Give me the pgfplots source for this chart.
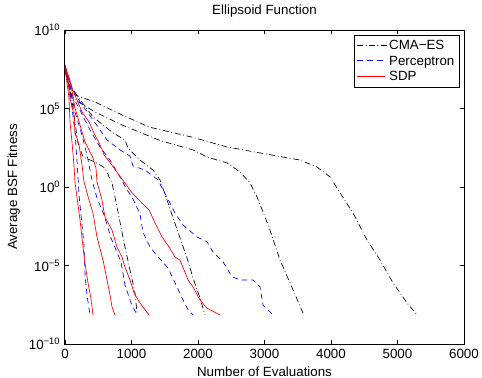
\documentclass[border=0pt]{standalone}
\usepackage{fontspec}
\setmainfont{Liberation Sans}
\usepackage{pgfplots}
\pgfplotsset{compat=1.18}
\newcommand{\seg}[1]{\rule[-0.3pt]{#1}{0.6pt}}
\begin{document}
\fontsize{10}{12}\selectfont
\begin{tikzpicture}
\useasboundingbox (-48.75pt,-25.5pt) rectangle (312.75pt,258pt);
\begin{axis}[
  at={(0,0)}, anchor=south west,
  scale only axis, width=299.25pt, height=235.5pt,
  xmin=0, xmax=6000, ymin=1e-10, ymax=1e10, ymode=log, log basis y=10,
  xtick={0,1000,2000,3000,4000,5000,6000},
  xticklabels={0,1000,2000,3000,4000,5000,6000},
  ytick={1e-10,1e-5,1,1e5,1e10},
  yticklabels={10\textsuperscript{−10},10\textsuperscript{−5},10\textsuperscript{0},10\textsuperscript{5},10\textsuperscript{10}},
  yminorticks=false, xminorticks=false,
  tick align=inside, major tick length=3pt,
  tick style={line width=0.5pt, black},
  axis line style={line width=0.75pt},
  tick label style={font=\fontsize{10}{12}\selectfont},
  title={Ellipsoid Function},
  xlabel={Number of Evaluations},
  ylabel={Average BSF Fitness},
  label style={font=\fontsize{10}{12}\selectfont},
  title style={font=\fontsize{10}{12}\selectfont},
  legend style={at={(rel axis cs:1,1)}, anchor=north east, xshift=-3pt, yshift=-3.75pt,
    font=\fontsize{10}{12}\selectfont, inner sep=2pt, row sep=-1pt},
  legend cell align=left,
  every axis plot/.append style={line width=0.5pt, no markers},
]
\addlegendimage{legend image code/.code={\node[inner sep=0pt, anchor=west, text=black] at (0pt,0pt) {\seg{4.5pt}\hspace{1.8pt}\seg{0.6pt}\hspace{1.8pt}\seg{4.5pt}\hspace{1.8pt}\seg{0.6pt}\hspace{1.8pt}\seg{4.5pt}};}}
\addlegendentry{CMA−ES}
\addlegendimage{legend image code/.code={\node[inner sep=0pt, anchor=west, text=blue] at (0pt,0pt) {\seg{4.5pt}\hspace{3pt}\seg{4.5pt}\hspace{3pt}\seg{4.5pt}};}}
\addlegendentry{Perceptron}
\addlegendimage{legend image code/.code={\node[inner sep=0pt, anchor=west, text=red] at (0pt,0pt) {\seg{20.5pt}};}}
\addlegendentry{SDP}
% CMA-ES
\addplot[black, dash pattern=on 4.5pt off 2pt on 0.6pt off 2pt, forget plot] coordinates {(0,4.0e7) (105,3.2e5) (195,6.3e2) (271,81) (451,39) (602,16) (707,1.8) (752,0.23) (827,5.9e-3) (902,1.5e-4) (978,5.1e-6) (1053,1.8e-7) (1083,9.3e-9)};
\addplot[black, dash pattern=on 4.5pt off 2pt on 0.6pt off 2pt, forget plot] coordinates {(0,3.2e7) (120,1.5e6) (421,2.9e4) (722,2.8e3) (902,9.8e2) (948,3.0e2) (1128,52) (1324,12) (1429,2.8) (1534,0.15) (1624,0.011) (1730,5.6e-4) (1835,3.0e-5) (1925,1.6e-6) (2030,8.5e-8) (2106,7.1e-9)};
\addplot[black, dash pattern=on 4.5pt off 2pt on 0.6pt off 2pt, forget plot] coordinates {(0,3.2e7) (105,4.7e5) (451,6.0e4) (857,8.9e3) (1429,9.1e2) (1925,2.3e2) (2136,81) (2436,34) (2632,9.1) (2782,1.8) (2888,0.23) (2978,0.025) (3083,1.8e-3) (3234,2.2e-5) (3429,2.8e-7) (3580,9.3e-9)};
\addplot[black, dash pattern=on 4.5pt off 2pt on 0.6pt off 2pt, forget plot] coordinates {(0,2.5e7) (60,3.2e6) (150,7.2e5) (450,2.6e5) (857,3.9e4) (1263,6.6e3) (1910,1.5e3) (2436,355) (2933,148) (3534,52) (3790,18.6) (3986,4.4) (4136,0.42) (4332,0.022) (4542,4.2e-4) (4738,2.2e-5) (4933,7.8e-7) (5144,4.1e-8) (5294,7.1e-9)};
% Perceptron
\addplot[blue, dash pattern=on 4pt off 3pt, forget plot] coordinates {(0,5.0e7) (75,1.1e6) (105,1.1e5) (150,3.2e3) (180,52) (211,0.31) (256,3.8e-3) (286,2.0e-4) (301,2.5e-6) (331,1.3e-7) (376,7.1e-9)};
\addplot[blue, dash pattern=on 4pt off 3pt, forget plot] coordinates {(0,5.0e7) (75,2.0e6) (150,6.0e4) (256,2.0e3) (331,1.1e2) (406,2.8) (481,0.2) (587,0.017) (692,5.6e-4) (842,1.7e-5) (902,5.8e-7) (993,4.1e-8) (1083,7.1e-9)};
\addplot[blue, dash pattern=on 4pt off 3pt, forget plot] coordinates {(0,5.0e7) (120,5.4e5) (226,7.9e4) (376,4.3e3) (527,3.5e2) (677,52) (827,4.4) (933,0.65) (1008,0.23) (1128,0.019) (1173,1.3e-3) (1278,1.5e-4) (1399,3.5e-5) (1549,6.9e-6) (1670,5.8e-7) (1775,6.3e-8) (1850,1.5e-8) (1925,7.1e-9)};
\addplot[blue, dash pattern=on 4pt off 3pt, forget plot] coordinates {(0,6.3e7) (75,4.2e6) (226,2.6e5) (421,1.9e4) (632,9.8e2) (827,2.3e2) (978,93) (1023,22) (1203,12) (1399,2.8) (1474,0.65) (1579,0.095) (1654,0.022) (1775,3.8e-3) (1985,6.6e-4) (2136,3.2e-4) (2226,7.2e-5) (2376,1.7e-5) (2512,1.9e-6) (2632,1.2e-6) (2828,1.2e-6) (2933,4.3e-7) (2978,3.0e-8) (3128,7.1e-9)};
% SDP
\addplot[red, solid, forget plot] coordinates {(0,3.8e7) (60,4.7e5) (75,1.4e4) (105,7.4e2) (135,25) (150,2.1) (180,0.23) (226,7.9e-3) (271,1.5e-4) (301,1.4e-5) (346,7.8e-7) (391,7.4e-8) (421,7.1e-9)};
\addplot[red, solid, forget plot] coordinates {(0,5.0e7) (30,1.3e7) (75,4.7e5) (135,3.9e4) (150,3.2e3) (211,4.8e2) (256,25) (286,2.1) (361,0.15) (421,0.022) (481,6.6e-4) (572,2.2e-5) (632,1.2e-6) (677,1.3e-7) (707,2.3e-8) (752,7.1e-9)};
\addplot[red, solid, forget plot] coordinates {(0,4.4e7) (75,6.6e6) (150,1.1e5) (226,8.9e3) (301,7.4e2) (421,71) (466,16) (481,2.1) (556,0.15) (602,0.012) (707,1.8e-3) (782,1.5e-4) (857,3.5e-5) (902,7.9e-6) (978,1.2e-6) (1038,1.8e-7) (1128,4.1e-8) (1263,7.1e-9)};
\addplot[red, solid, forget plot] coordinates {(0,5.0e7) (105,2.0e6) (256,6.0e4) (361,1.4e4) (451,2.0e3) (527,4.8e2) (587,1.1e2) (707,25) (812,5.8) (902,1.8) (1008,0.42) (1158,0.095) (1263,0.035) (1354,5.1e-3) (1459,6.6e-4) (1564,1.5e-4) (1654,3.5e-5) (1730,2.2e-5) (1790,5.1e-6) (1850,1.2e-6) (1925,4.3e-7) (2030,6.3e-8) (2136,1.9e-8) (2331,7.1e-9)};
\end{axis}
\end{tikzpicture}
\end{document}
